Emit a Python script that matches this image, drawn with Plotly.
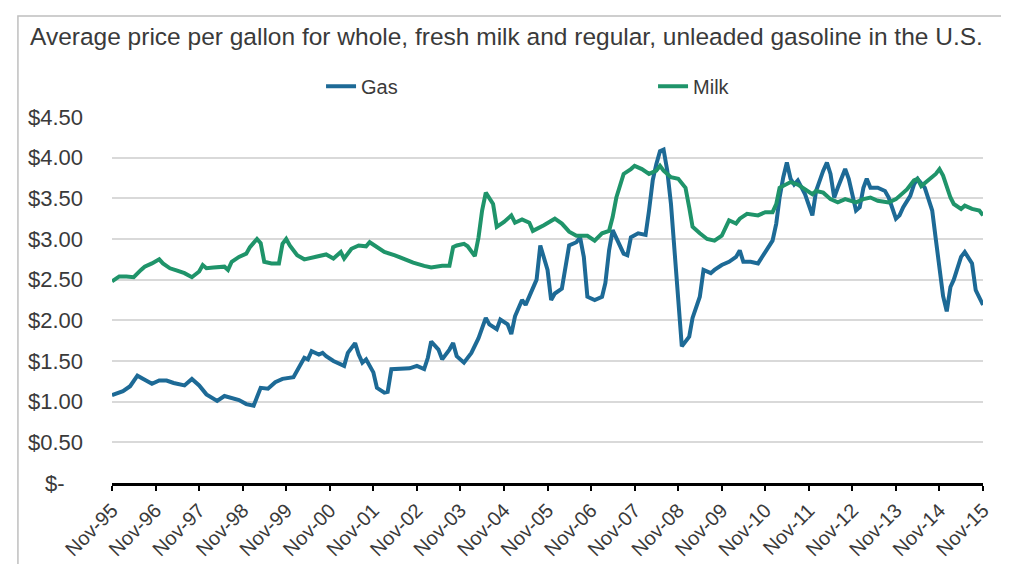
import pandas as pd
import plotly.graph_objects as go

# Months since Nov-1995 and prices
gas_months = [0, 3, 5, 7, 9, 11, 13, 15, 17, 20, 22, 24, 26, 29, 31, 33, 35, 37, 39, 41, 43, 45, 47,
              50, 51, 53, 54, 55, 57, 58, 59, 61, 64, 65, 67, 68, 69, 70, 72, 73, 75, 76, 77, 80, 82,
              84, 86, 87, 88, 90, 91, 93, 94, 95, 97, 99, 101, 103, 104, 106, 107, 109, 110, 111, 113,
              114, 115, 117, 118, 120, 121, 122, 124, 125, 126, 128, 129, 130, 131, 133, 135, 136, 137,
              138, 139, 141, 142, 143, 145, 147, 148, 149, 150, 151, 152, 153, 154, 155, 156, 157, 159,
              160, 162, 163, 165, 166, 168, 170, 172, 173, 174, 176, 178, 180, 182, 183, 184, 185, 186,
              187, 188, 189, 191, 193, 194, 196, 197, 198, 199, 200, 202, 203, 205, 206, 207, 208, 209,
              211, 213, 214, 216, 217, 218, 220, 221, 222, 224, 225, 226, 227, 228, 229, 230, 231, 232,
              234, 235, 237, 238, 240]
gas_values = [1.08, 1.13, 1.19, 1.32, 1.27, 1.22, 1.26, 1.26, 1.23, 1.20, 1.28, 1.20, 1.09, 1.01, 1.07,
              1.04, 1.02, 0.97, 0.95, 1.17, 1.16, 1.24, 1.28,
              1.30, 1.38, 1.54, 1.52, 1.62, 1.58, 1.60, 1.56, 1.50, 1.44, 1.60, 1.72, 1.58, 1.48, 1.52,
              1.36, 1.17, 1.11, 1.12, 1.40, 1.40, 1.41,
              1.44, 1.40, 1.54, 1.74, 1.64, 1.52, 1.64, 1.72, 1.56, 1.48, 1.60, 1.78, 2.03, 1.95, 1.89,
              2.01, 1.95, 1.83, 2.05, 2.25,
              2.19, 2.29, 2.50, 2.92, 2.62, 2.25, 2.33, 2.39, 2.66, 2.92, 2.96, 3.02, 2.78, 2.29, 2.25,
              2.29, 2.46, 2.86,
              3.11, 3.02, 2.82, 2.80, 3.02, 3.07, 3.05, 3.35, 3.72, 3.92, 4.08, 4.10, 3.84, 3.43, 2.82,
              2.21, 1.68, 1.80,
              2.03, 2.29, 2.62, 2.58, 2.62, 2.68, 2.72, 2.78, 2.86, 2.72, 2.72, 2.70, 2.84, 2.98, 3.19,
              3.51, 3.76, 3.94,
              3.74, 3.67, 3.72, 3.55, 3.29, 3.59, 3.84, 3.94, 3.80, 3.51, 3.63, 3.86, 3.74, 3.35, 3.39,
              3.63, 3.74, 3.63,
              3.63, 3.59, 3.51, 3.25, 3.29, 3.39, 3.53, 3.67, 3.74, 3.63, 3.49, 3.35, 3.00, 2.60, 2.30,
              2.11, 2.41, 2.50,
              2.78, 2.84, 2.70, 2.37, 2.19]

milk_months = [0, 2, 4, 6, 8, 9, 11, 13, 14, 16, 18, 20, 22, 24, 25, 26, 28, 31, 32, 33, 35, 37, 38,
               39, 40, 41, 42, 44, 46, 47, 48, 49, 51, 53, 55, 57, 59, 61, 63, 64, 66, 68, 70, 71, 73,
               75, 78, 81, 83, 86, 88, 91, 93, 94, 95, 97, 98, 100, 101, 102, 103, 105, 106, 108, 110,
               111, 113, 115, 116, 119, 122, 124, 126, 128, 131, 133, 135, 137, 138, 139, 141, 143, 144,
               146, 148, 150, 151, 152, 154, 156, 158, 159, 160, 162, 164, 166, 168, 170, 172, 173, 175,
               178, 180, 182, 183, 184, 185, 187, 189, 191, 193, 194, 196, 198, 200, 202, 204, 205, 207,
               209, 211, 214, 216, 217, 219, 221, 222, 223, 225, 227, 228, 229, 231, 232, 234, 235, 237,
               239, 240]
milk_values = [2.48, 2.54, 2.54, 2.53, 2.62, 2.66, 2.70, 2.75, 2.70, 2.64, 2.61, 2.58, 2.53, 2.60, 2.68,
               2.64, 2.65, 2.66, 2.62, 2.72, 2.78, 2.82, 2.90,
               2.95, 3.00, 2.95, 2.72, 2.70, 2.70, 2.94, 3.00, 2.92, 2.80, 2.75, 2.77, 2.79, 2.81, 2.76,
               2.84, 2.76, 2.88, 2.92, 2.91, 2.96, 2.90,
               2.84, 2.80, 2.74, 2.71, 2.67, 2.65, 2.67, 2.67, 2.90, 2.92, 2.94, 2.91, 2.79, 3.02, 3.35,
               3.57, 3.43, 3.15, 3.21, 3.29,
               3.20, 3.24, 3.20, 3.10, 3.17, 3.25, 3.19, 3.09, 3.04, 3.04, 2.98, 3.07, 3.10, 3.27, 3.51,
               3.80, 3.86, 3.90,
               3.86, 3.80, 3.84, 3.90, 3.84, 3.76, 3.74, 3.63, 3.39, 3.15, 3.07, 3.00, 2.98, 3.04, 3.23,
               3.19, 3.25, 3.31,
               3.29, 3.33, 3.33, 3.43, 3.63, 3.65, 3.70, 3.67, 3.61, 3.55, 3.59, 3.57, 3.49, 3.45, 3.49,
               3.47, 3.45, 3.49,
               3.51, 3.47, 3.45, 3.49, 3.53, 3.61, 3.72, 3.74, 3.65, 3.72, 3.80, 3.86, 3.78, 3.51, 3.43,
               3.37, 3.41, 3.37,
               3.35, 3.29]

x_tick_labels = ["Nov-95", "Nov-96", "Nov-97", "Nov-98", "Nov-99", "Nov-00", "Nov-01", "Nov-02",
                 "Nov-03", "Nov-04", "Nov-05", "Nov-06", "Nov-07", "Nov-08", "Nov-09", "Nov-10",
                 "Nov-11", "Nov-12", "Nov-13", "Nov-14", "Nov-15"]
y_tick_values = [0, 0.5, 1.0, 1.5, 2.0, 2.5, 3.0, 3.5, 4.0, 4.5]
y_tick_labels = ["$-\u00a0\u00a0\u00a0", "$0.50", "$1.00", "$1.50", "$2.00", "$2.50", "$3.00",
                 "$3.50", "$4.00", "$4.50"]

start = pd.Timestamp("1995-11-01")
def to_dates(months):
    return [(start + pd.DateOffset(months=int(m))).strftime("%Y-%m-%d") for m in months]

gas_dates = to_dates(gas_months)
milk_dates = to_dates(milk_months)
tick_dates = [(start + pd.DateOffset(years=i)).strftime("%Y-%m-%d") for i in range(len(x_tick_labels))]

GAS = "#1d6a96"
MILK = "#1f946a"
FONT = "Liberation Sans, Arial, sans-serif"
TXT = "#3a3a3a"

fig = go.Figure()
fig.add_trace(go.Scatter(x=gas_dates, y=gas_values, mode="lines", name="Gas",
                         line=dict(color=GAS, width=4)))
fig.add_trace(go.Scatter(x=milk_dates, y=milk_values, mode="lines", name="Milk",
                         line=dict(color=MILK, width=4)))

fig.update_layout(
    width=1009, height=564,
    margin=dict(l=104, r=34, t=109, b=86),
    paper_bgcolor="white", plot_bgcolor="white",
    font=dict(family=FONT, color=TXT),
    title=dict(text="Average price per gallon for whole, fresh milk and regular, unleaded gasoline in the U.S.",
               x=0.494, xanchor="center", y=0.95, yanchor="middle",
               font=dict(size=24.5, color=TXT, family=FONT)),
    legend=dict(orientation="h", x=0.24, xanchor="left", y=1.084, yanchor="middle",
                entrywidth=287, entrywidthmode="pixels",
                font=dict(size=20, color=TXT), bgcolor="rgba(0,0,0,0)"),
    showlegend=True,
    xaxis=dict(type="date", range=[tick_dates[0], tick_dates[-1]],
               tickvals=tick_dates, ticktext=x_tick_labels, tickangle=-45,
               showgrid=False, showline=True, linecolor="black", linewidth=2.5,
               ticks="outside", ticklen=5, tickwidth=2, tickcolor="black",
               tickfont=dict(size=20, color=TXT), zeroline=False),
    yaxis=dict(range=[0, 4.5], tickvals=y_tick_values, ticktext=y_tick_labels,
               showgrid=True, gridcolor="#d9d9d9", gridwidth=2, zeroline=False,
               showline=False, ticks="", ticklabelstandoff=28,
               tickfont=dict(size=22, color=TXT)),
    shapes=[dict(type="rect", xref="paper", yref="paper",
                 x0=-0.108, x1=1.029, y0=-0.4, y1=1.276,
                 line=dict(color="#bfbfbf", width=1.5), layer="below")],
)

fig.write_html("out.html")
